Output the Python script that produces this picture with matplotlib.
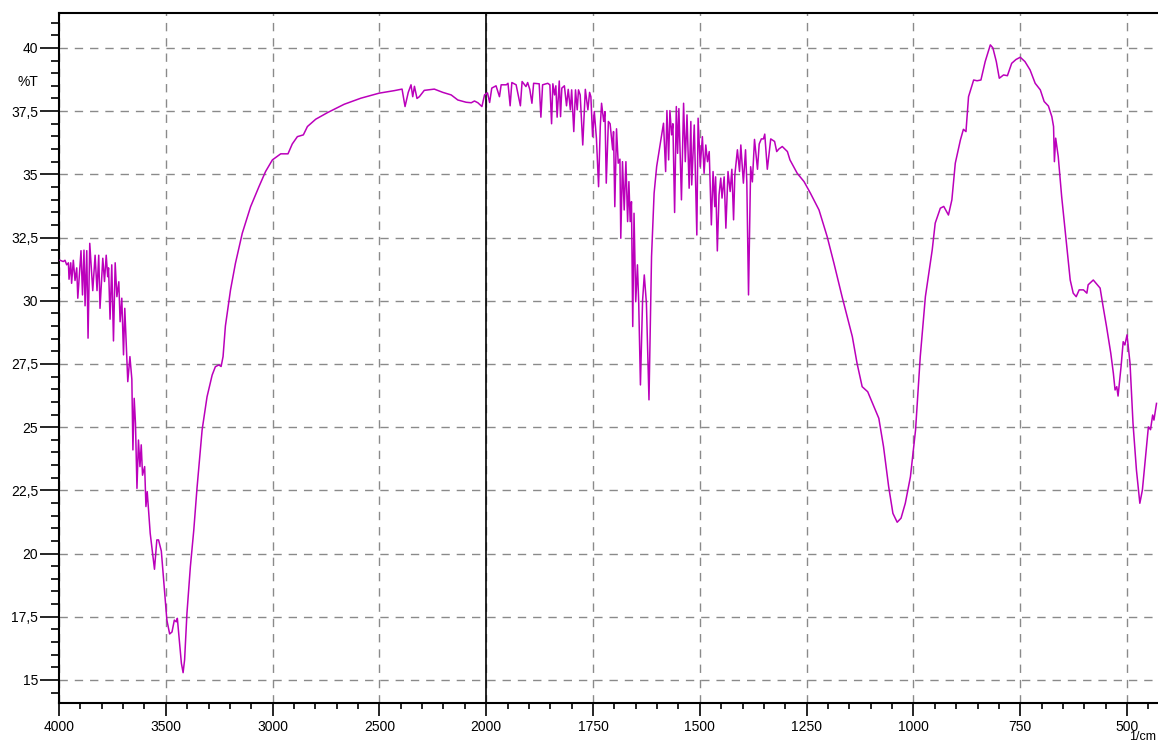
import matplotlib
matplotlib.use("Agg")
import matplotlib.pyplot as plt
from matplotlib.ticker import FixedLocator, MultipleLocator, FuncFormatter

# spectrum (wavenumber 1/cm, %T)
wavenumber = [
    3995, 3980, 3972, 3964, 3956, 3953, 3945, 3941, 3933, 3925, 3917, 3912, 3897, 3890,
    3883, 3878, 3870, 3864, 3856, 3842, 3831, 3822, 3814, 3808, 3795, 3787, 3779, 3772,
    3768, 3761, 3753, 3745, 3737, 3729, 3720, 3714, 3706, 3698, 3692, 3685, 3678, 3668,
    3659, 3654, 3648, 3642, 3635, 3628, 3621, 3615, 3609, 3599, 3593, 3587, 3573, 3553,
    3542, 3534, 3521, 3510, 3495, 3482, 3471, 3460, 3451, 3446, 3437, 3427, 3419, 3412,
    3401, 3385, 3369, 3354, 3330, 3307, 3283, 3268, 3252, 3241, 3232, 3221, 3197, 3174,
    3142, 3103, 3064, 3033, 3001, 2962, 2928, 2908, 2884, 2856, 2837, 2798, 2743, 2665,
    2587, 2501, 2430, 2394, 2380, 2365, 2352, 2344, 2336, 2324, 2313, 2290, 2243, 2203,
    2164, 2133, 2094, 2070, 2055, 2039, 2020, 2008, 1997, 1992, 1987, 1977, 1969, 1965,
    1953, 1949, 1944, 1940, 1930, 1926, 1920, 1916, 1907, 1903, 1898, 1893, 1889, 1876,
    1872, 1868, 1856, 1851, 1847, 1844, 1840, 1837, 1834, 1829, 1826, 1823, 1817, 1812,
    1808, 1803, 1800, 1795, 1791, 1787, 1784, 1780, 1774, 1768, 1762, 1758, 1755, 1751,
    1747, 1742, 1737, 1733, 1730, 1725, 1722, 1719, 1714, 1710, 1704, 1702, 1699, 1695,
    1691, 1687, 1685, 1681, 1677, 1673, 1669, 1666, 1663, 1660, 1657, 1654, 1650, 1646,
    1643, 1639, 1634, 1630, 1625, 1619, 1613, 1607, 1601, 1593, 1585, 1580, 1577, 1573,
    1570, 1566, 1563, 1559, 1555, 1552, 1549, 1543, 1538, 1534, 1530, 1525, 1521, 1519,
    1513, 1507, 1504, 1499, 1494, 1490, 1486, 1482, 1478, 1473, 1469, 1465, 1463, 1459,
    1455, 1451, 1448, 1443, 1439, 1434, 1429, 1425, 1421, 1418, 1412, 1407, 1404, 1398,
    1393, 1390, 1386, 1381, 1377, 1372, 1365, 1361, 1356, 1351, 1348, 1342, 1334, 1325,
    1320, 1315, 1307, 1295, 1289, 1272, 1256, 1241, 1221, 1202, 1186, 1167, 1143, 1132,
    1120, 1107, 1097, 1081, 1070, 1058, 1048, 1038, 1029, 1019, 1007, 995, 984, 972,
    964, 956, 949, 937, 929, 918, 910, 902, 890, 883, 877, 871, 859, 851,
    842, 832, 820, 814, 806, 799, 789, 780, 770, 760, 750, 739, 727, 715,
    703, 694, 684, 676, 672, 670, 667, 661, 653, 641, 633, 626, 619, 612,
    602, 594, 591, 579, 563, 556, 548, 538, 532, 528, 524, 521, 514, 509,
    505, 500, 493, 486, 478, 470, 464, 458, 450, 445, 440, 437, 431,
]
transmittance = [
    31.6, 31.55, 31.6, 31.42, 31.5, 30.85, 31.5, 30.69, 31.6, 30.8, 31.3, 30.1, 31.98, 30.23,
    32.0, 29.8, 31.98, 28.52, 32.27, 30.4, 31.8, 30.4, 31.8, 29.7, 31.68, 30.76, 31.8, 30.95,
    31.3, 29.27, 31.42, 28.41, 31.5, 30.16, 30.75, 29.17, 30.1, 27.86, 29.7, 28.25, 26.8, 27.79,
    26.9, 24.1, 26.14, 25.15, 22.58, 24.49, 23.44, 24.3, 23.1, 23.44, 21.86, 22.45, 20.8, 19.38,
    20.54, 20.54, 20.1, 18.95, 17.37, 16.82, 16.9, 17.37, 17.3, 17.44, 16.58, 15.66, 15.29, 15.8,
    17.64, 19.48, 20.93, 22.58, 24.89, 26.2, 27.06, 27.39, 27.46, 27.4, 27.79, 29.0, 30.43, 31.48,
    32.67, 33.72, 34.51, 35.11, 35.57, 35.81, 35.81, 36.2, 36.49, 36.56, 36.89, 37.18, 37.44, 37.77,
    38.01, 38.21, 38.31, 38.37, 37.68, 38.24, 38.54, 38.07, 38.48, 38.0, 38.07, 38.32, 38.37, 38.24,
    38.14, 37.94, 37.85, 37.83, 37.9, 37.83, 37.68, 38.14, 38.22, 37.84, 38.41, 38.5, 38.07, 38.54,
    38.54, 38.6, 37.71, 38.63, 38.54, 38.21, 37.71, 38.67, 38.47, 38.63, 38.36, 37.81, 38.6, 38.58,
    37.26, 38.54, 38.6, 38.54, 37.0, 38.58, 38.14, 38.5, 37.26, 38.69, 37.28, 38.41, 38.5, 37.71,
    38.36, 37.55, 38.34, 36.69, 38.34, 37.55, 38.34, 38.14, 36.16, 38.36, 37.55, 38.24, 38.07, 36.49,
    37.48, 36.42, 34.51, 36.89, 37.81, 37.09, 37.48, 34.65, 37.09, 37.0, 35.97, 36.69, 33.72, 36.8,
    35.44, 35.6, 32.47, 35.5, 33.59, 35.5, 33.13, 34.71, 33.13, 33.92, 28.98, 33.46, 29.96, 31.42,
    29.9, 26.67, 30.0, 31.02, 29.9, 26.08, 31.75, 34.25, 35.31, 36.16, 37.02, 35.11, 37.52, 35.57,
    37.52, 36.56, 37.0, 33.49, 37.68, 35.83, 37.6, 33.99, 37.81, 35.5, 37.35, 34.45, 37.09, 34.58,
    36.95, 32.6, 37.22, 35.3, 36.49, 35.04, 36.16, 35.5, 35.9, 33.0, 35.11, 33.72, 34.9, 31.97,
    34.19, 34.85, 34.06, 34.9, 32.87, 35.11, 34.32, 35.2, 33.2, 34.98, 35.97, 35.11, 36.16, 34.65,
    35.97, 34.7, 30.23, 35.3, 34.7, 36.38, 35.2, 36.2, 36.4, 36.4, 36.59, 35.2, 36.4, 36.3,
    35.9, 36.0, 36.1, 35.9, 35.57, 35.04, 34.71, 34.25, 33.59, 32.54, 31.48, 30.16, 28.58, 27.53,
    26.6, 26.4, 26.0, 25.35, 24.23, 22.65, 21.59, 21.24, 21.4, 21.99, 23.04, 24.89, 27.79, 30.16,
    31.09, 32.01, 33.07, 33.66, 33.73, 33.39, 33.99, 35.44, 36.36, 36.78, 36.69, 38.07, 38.73, 38.7,
    38.73, 39.46, 40.12, 40.0, 39.46, 38.8, 38.93, 38.9, 39.39, 39.54, 39.63, 39.46, 39.13, 38.6,
    38.34, 37.88, 37.7, 37.28, 36.89, 35.5, 36.43, 35.7, 34.12, 32.14, 30.82, 30.3, 30.16, 30.43,
    30.43, 30.3, 30.63, 30.82, 30.5, 29.77, 28.98, 27.92, 27.13, 26.47, 26.6, 26.23, 27.39, 28.38,
    28.25, 28.65, 27.53, 25.15, 23.31, 21.99, 22.52, 23.57, 25.01, 24.9, 25.48, 25.28, 25.94,
]
x_ticks = [4000, 3500, 3000, 2500, 2000, 1750, 1500, 1250, 1000, 750, 500]
y_ticks = [15, 17.5, 20, 22.5, 25, 27.5, 30, 32.5, 35, 37.5, 40]


# instrument style axis: scale doubles below 2000 1/cm
def to_u(wn):
    return 4000 - wn if wn >= 2000 else 2000 + 2 * (2000 - wn)


def from_u(u):
    return 4000 - u if u <= 2000 else 2000 - (u - 2000) / 2


plt.rcParams['font.family'] = ['Liberation Sans Narrow', 'Liberation Sans', 'DejaVu Sans']

fig = plt.figure(figsize=(11.58, 7.44), dpi=100)
ax = fig.add_axes([59 / 1158, 41 / 744, 1 - 59 / 1158, 690 / 744])

u = [to_u(w) for w in wavenumber]
ax.plot(u, transmittance, color="#bb00bb", lw=1.1, zorder=3)

ax.set_xlim(0, 5145)
ax.set_ylim(14.09, 41.38)

ax.xaxis.set_major_locator(FixedLocator([to_u(w) for w in x_ticks]))
ax.xaxis.set_minor_locator(MultipleLocator(100))
ax.xaxis.set_major_formatter(FuncFormatter(lambda v, p: f"{from_u(v):.0f}"))
ax.yaxis.set_major_locator(FixedLocator(y_ticks))
ax.yaxis.set_minor_locator(MultipleLocator(0.5))
ax.yaxis.set_major_formatter(FuncFormatter(lambda v, p: f"{v:g}".replace(".", ",")))

ax.tick_params(which="major", direction="out", length=14, width=1.2, labelsize=10, pad=1)
ax.tick_params(which="minor", direction="out", length=6, width=1.2)
ax.tick_params(axis="x", which="major", length=9, pad=3)
ax.tick_params(axis="x", which="minor", length=4)

ax.grid(True, which="major", color="#8a8a8a", lw=1.0, linestyle=(0, (6, 5)))
ax.axvline(to_u(2000), color="black", lw=1.2, zorder=2)

for side in ["left", "top", "bottom"]:
    ax.spines[side].set_linewidth(1.5)
ax.spines["right"].set_visible(False)

fig.text(28 / 1158, 1 - 82 / 744, "%T", ha="center", va="center", fontsize=10)
fig.text(1156 / 1158, 1 / 744, "1/cm", ha="right", va="bottom", fontsize=9)

fig.savefig("out.png", dpi=100)
